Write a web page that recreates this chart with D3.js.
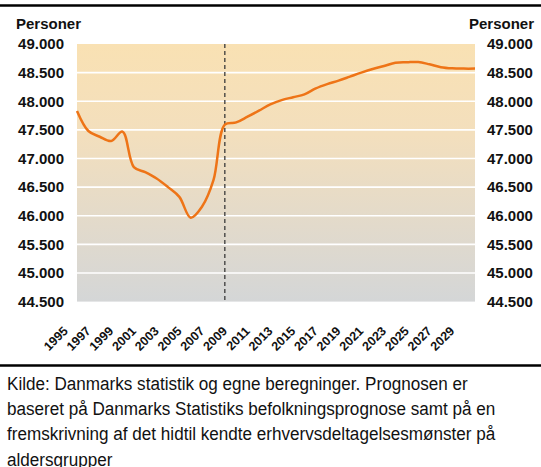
<!DOCTYPE html>
<html>
<head>
<meta charset="utf-8">
<script src="https://d3js.org/d3.v7.min.js"></script>
<style>
	body {margin:0; background:#fff;}
	svg {display:block;}
</style>
</head>
<body>
<div id="chart-box"></div>
<script>
// years and the series (persons)
const years = [1995,1996,1997,1998,1999,2000,2001,2002,2003,2004,2005,2006,2007,2008,2009,2010,2011,2012,
	2013,2014,2015,2016,2017,2018,2019,2020,2021,2022,2023,2024,2025,2026,2027,2028,2029,2030];
const persons = [47830,47480,47380,47305,47470,46850,46760,46650,46500,46330,45965,46160,46620,47590,47630,47730,47835,47945,
	48020,48070,48120,48225,48300,48360,48430,48500,48563,48615,48672,48680,48686,48645,48595,48575,48570,48570];
const yTicks = [44500,45000,45500,46000,46500,47000,47500,48000,48500,49000];
const xTickYears = [1995,1997,1999,2001,2003,2005,2007,2009,2011,2013,2015,2017,2019,2021,2023,2025,2027,2029];
const forecastStart = 2008;
const yTitle = "Personer";
const sourceLines = [
	"Kilde: Danmarks statistik og egne beregninger. Prognosen er",
	"baseret på Danmarks Statistiks befolkningsprognose samt på en",
	"fremskrivning af det hidtil kendte erhvervsdeltagelsesmønster på",
	"aldersgrupper"
];

const width = 541, height = 467;
const plot = {left:77, right:475, top:44, bottom:301.6};

const svg = d3.select("#chart-box")
	.append("svg")
	.attr("width", width)
	.attr("height", height);

const fmt = d3.format(",");
const label = (v) => fmt(v).replace(/,/g, ".");

const xScale = d3.scaleLinear()
	.domain([1995, 2030])
	.range([plot.left, plot.right]);
const yScale = d3.scaleLinear()
	.domain([44500, 49000])
	.range([plot.bottom, plot.top]);

//background gradient
const defs = svg.append("defs");
const grad = defs.append("linearGradient")
	.attr("id", "bg")
	.attr("x1", 0).attr("y1", 0).attr("x2", 0).attr("y2", 1);
grad.append("stop").attr("offset", "0%").attr("stop-color", "#f9e1b3");
grad.append("stop").attr("offset", "35%").attr("stop-color", "#f3dfbd");
grad.append("stop").attr("offset", "100%").attr("stop-color", "#d4d6d7");

svg.append("rect")
	.attr("x", plot.left)
	.attr("y", plot.top)
	.attr("width", plot.right - plot.left)
	.attr("height", plot.bottom - plot.top)
	.attr("fill", "url(#bg)");

//gridlines
svg.append("g")
	.selectAll("line")
	.data(yTicks.slice(1, -1))
	.enter()
	.append("line")
	.attr("x1", plot.left)
	.attr("x2", plot.right)
	.attr("y1", d => yScale(d))
	.attr("y2", d => yScale(d))
	.attr("stroke", "#fff")
	.attr("stroke-width", 1.6);

//forecast divider
svg.append("line")
	.attr("x1", xScale(forecastStart))
	.attr("x2", xScale(forecastStart))
	.attr("y1", plot.top)
	.attr("y2", plot.bottom)
	.attr("stroke", "#3a3a3a")
	.attr("stroke-width", 1.3)
	.attr("stroke-dasharray", "4,3");

//the line
const line = d3.line()
	.x((d, i) => xScale(years[i]))
	.y(d => yScale(d))
	.curve(d3.curveCatmullRom.alpha(0.5));

svg.append("path")
	.datum(persons)
	.attr("d", line)
	.attr("fill", "none")
	.attr("stroke", "#ee7417")
	.attr("stroke-width", 2.5)
	.attr("stroke-linejoin", "round");

//y axes (left and right)
const axisFont = "'Liberation Sans', Arial, sans-serif";
const yLeft = d3.axisLeft(yScale).tickValues(yTicks).tickFormat(label).tickSize(0).tickPadding(13);
const yRight = d3.axisRight(yScale).tickValues(yTicks).tickFormat(label).tickSize(0).tickPadding(12);

[[yLeft, plot.left], [yRight, plot.right]].forEach(([ax, x]) => {
	const g = svg.append("g")
		.attr("transform", `translate(${x},0)`)
		.call(ax);
	g.select(".domain").remove();
	g.selectAll("text")
		.attr("font-family", axisFont)
		.attr("font-size", 15)
		.attr("font-weight", "bold")
		.attr("fill", "#111");
});

svg.append("text")
	.attr("x", 16)
	.attr("y", 29)
	.attr("font-family", axisFont)
	.attr("font-size", 15)
	.attr("font-weight", "bold")
	.attr("fill", "#111")
	.text(yTitle);
svg.append("text")
	.attr("x", 534)
	.attr("y", 29)
	.attr("text-anchor", "end")
	.attr("font-family", axisFont)
	.attr("font-size", 15)
	.attr("font-weight", "bold")
	.attr("fill", "#111")
	.text(yTitle);

//x axis, rotated year labels
const xAxis = d3.axisBottom(xScale)
	.tickValues(xTickYears)
	.tickFormat(d => String(d))
	.tickSize(0);
const gx = svg.append("g")
	.attr("transform", `translate(0,${plot.bottom})`)
	.call(xAxis);
gx.select(".domain").remove();
gx.selectAll("text")
	.attr("font-family", axisFont)
	.attr("font-size", 12.5)
	.attr("font-weight", "bold")
	.attr("fill", "#111")
	.attr("text-anchor", "end")
	.attr("dy", 0)
	.attr("transform", "translate(-11,28) rotate(-45)");

//frame lines
svg.append("line")
	.attr("x1", 0).attr("x2", width)
	.attr("y1", 5.5).attr("y2", 5.5)
	.attr("stroke", "#000")
	.attr("stroke-width", 2.5);
svg.append("line")
	.attr("x1", 0).attr("x2", width)
	.attr("y1", 365.5).attr("y2", 365.5)
	.attr("stroke", "#000")
	.attr("stroke-width", 2.5);

//source note, condensed horizontally like the original narrow face
svg.append("g")
	.attr("transform", "translate(7,0) scale(0.9,1)")
	.selectAll("text")
	.data(sourceLines)
	.enter()
	.append("text")
	.attr("x", 0)
	.attr("y", (d, i) => 390 + i * 25.2)
	.attr("font-family", "'Liberation Sans', Arial, sans-serif")
	.attr("font-size", 19)
	.attr("fill", "#111")
	.text(d => d);
</script>
</body>
</html>
